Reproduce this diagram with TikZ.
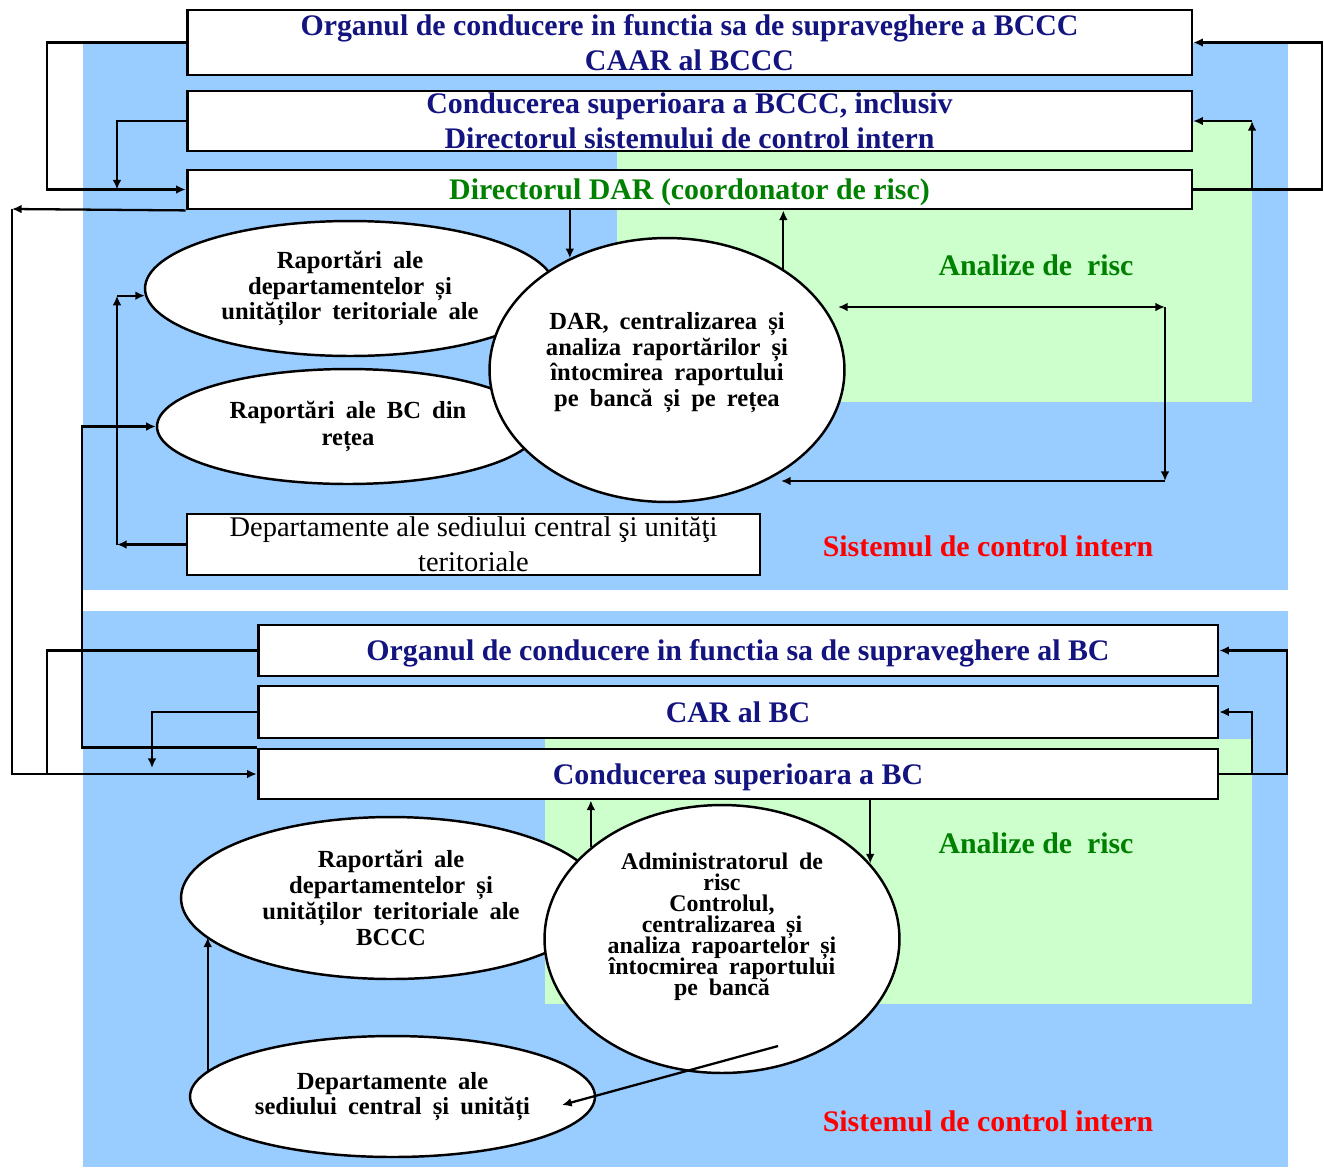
\documentclass[tikz,border=0pt]{standalone}
\usepackage{fontspec}
\setmainfont{Liberation Serif}
\usetikzlibrary{shapes.geometric, arrows.meta}

\definecolor{panelblue}{RGB}{153,204,255}
\definecolor{panelgreen}{RGB}{204,255,204}
\definecolor{headblue}{RGB}{20,20,128}
\definecolor{headgreen}{RGB}{0,128,0}
\definecolor{headred}{RGB}{255,0,0}

\newcommand{\widesp}{\spaceskip=0.45em plus 0.1em\relax\lineskiplimit=-20pt\relax}

\begin{document}
\begin{tikzpicture}[x=0.02cm, y=-0.02cm, >={Latex[length=5.5pt,width=5pt]}, line width=1.3pt,
        box/.style={draw, fill=white, line width=1.6pt, inner sep=0pt, align=center,
            text=headblue, font=\bfseries\fontsize{17}{20}\selectfont},
        oneline/.style={text height=15.5pt, text depth=4pt},
        report/.style={draw, fill=white, ellipse, line width=1.4pt, inner sep=0pt, align=center,
            font=\bfseries\fontsize{14}{14.7}\selectfont\widesp},
        note/.style={font=\bfseries\fontsize{17}{20}\selectfont}]
    \useasboundingbox (0,0) rectangle (1324,1167);

    % panels
    \fill[panelblue] (83,43) rectangle (1288,590);
    \fill[panelgreen] (617,122) rectangle (1252,402);
    \fill[panelblue] (83,611) rectangle (1288,1167);
    \fill[panelgreen] (545,739) rectangle (1252,1004);

    % BCCC
    \node[box, minimum width=20.1cm, minimum height=1.3cm] (b1) at (689.5,42.5)
        {Organul de conducere in functia sa de supraveghere a BCCC\\CAAR al BCCC};
    \node[box, minimum width=20.1cm, minimum height=1.2cm] (b2) at (689.5,121)
        {Conducerea superioara a BCCC, inclusiv\\Directorul sistemului de control intern};
    \node[box, oneline, minimum width=20.1cm, minimum height=0.78cm, text=headgreen] (b3) at (689.5,189.5)
        {Directorul DAR (coordonator de risc)};
    \node[report, minimum width=8.2cm, minimum height=2.7cm] (rap1) at (350,288.5)
        {Raportări ale\\departamentelor și\\unităților teritoriale ale};
    \node[report, minimum width=7.64cm, minimum height=2.3cm, font=\bfseries\fontsize{14}{15.3}\selectfont\widesp] (rap2) at (348,426.5)
        {Raportări ale BC din\\rețea};
    \node[report, minimum width=7.1cm, minimum height=5.28cm, text depth=12pt] (dar) at (667,370)
        {DAR, centralizarea și\\analiza raportărilor și\\întocmirea raportului\\pe bancă și pe rețea};
    \node[box, minimum width=11.46cm, minimum height=1.22cm, text=black,
        font=\fontsize{16.2}{19.8}\selectfont] (dep1) at (473.5,544.5)
        {Departamente ale sediului central şi unităţi\\teritoriale};
    \node[note, text=headgreen] (risc1) at (1036,265) {Analize de\ \ risc};
    \node[note, text=headred] (sci1) at (988,546) {Sistemul de control intern};

    % BC
    \node[box, oneline, minimum width=19.2cm, minimum height=1.02cm] (b4) at (738,650.5)
        {Organul de conducere in functia sa de supraveghere al BC};
    \node[box, oneline, minimum width=19.2cm, minimum height=1.04cm] (b5) at (738,712) {CAR al BC};
    \node[box, oneline, minimum width=19.2cm, minimum height=1cm] (b6) at (738,774) {Conducerea superioara a BC};
    \node[report, minimum width=8.4cm, minimum height=3.24cm] (rap3) at (391,898)
        {Raportări ale\\departamentelor și\\unităților teritoriale ale\\BCCC};
    \node[report, minimum width=7.1cm, minimum height=5.36cm, text depth=17pt,
        font=\bfseries\fontsize{13.6}{12}\selectfont\widesp] (adm) at (722,939)
        {Administratorul de\\risc\\Controlul,\\centralizarea și\\analiza rapoartelor și\\întocmirea raportului\\pe bancă};
    \node[report, minimum width=8.1cm, minimum height=2.42cm] (dep2) at (392.5,1096.5)
        {Departamente ale\\sediului central și unități};
    \node[note, text=headgreen] (risc2) at (1036,843) {Analize de\ \ risc};
    \node[note, text=headred] (sci2) at (988,1121) {Sistemul de control intern};

    % rails and free ends
    \coordinate (w1) at (12,209);
    \coordinate (w2) at (47,0);
    \coordinate (w3) at (82,0);
    \coordinate (w4) at (117,0);
    \coordinate (w5) at (152,768);
    \coordinate (e1) at (1322,0);
    \coordinate (e2) at (1252,0);
    \coordinate (e3) at (1287,0);
    \coordinate (a1) at (838,307);
    \coordinate (a2) at (1165,307);
    \coordinate (a3) at (1165,481);
    \coordinate (a4) at (781,481);
    \coordinate (c1) at (778,1046);
    \coordinate (c2) at (562,1105);

    % connectors, BCCC
    \draw[->] (b1.west) -- (b1.west -| w2) -- (b3.west -| w2) -- (b3.west);
    \draw[->] (b2.west) -| (b3.west -| w4);
    \draw[->] (b3.south west) -- (w1);
    \draw[->] (w1) |- (b6.west);
    \draw[->] (b3.east) -- (b3.east -| e1) -- (b1.east -| e1) -- (b1.east);
    \draw[->] (b3.east -| e2) -- (b2.east -| e2);
    \draw[->] (b2.east -| e2) -- (b2.east);
    \draw[->] (b3.south -| dar.131) -- (dar.131);
    \draw[->] (dar.41) -- (dar.41 |- b3.south);
    \draw[<->] (a1) -- (a2);
    \draw[->] (a2) -- (a3);
    \draw[->] (a3) -- (a4);
    \draw[->] (dep1.west) -- (dep1.west -| w4);
    \draw[->] (dep1.west -| w4) -- (rap1.182 -| w4);
    \draw[->] (rap1.182 -| w4) -- (rap1.182);
    \draw[->] (b6.north west) -- (b6.north west -| w3) -- (rap2.west -| w3) -- (rap2.west);

    % connectors, BC
    \draw (b4.west) -| (b6.west -| w2);
    \draw[->] (b5.west) -| (w5);
    \draw[->] (b6.east) -- (b6.east -| e3) -- (b4.east -| e3) -- (b4.east);
    \draw[->] (b6.east -| e2) |- (b5.east);
    \draw[->] (adm.145) -- (adm.145 |- b6.south);
    \draw[->] (adm.27 |- b6.south) -- (adm.27);
    \draw[->] (c1) -- (c2);
    \draw[->] (dep2.172) -- (dep2.172 |- rap3.192);
\end{tikzpicture}
\end{document}
